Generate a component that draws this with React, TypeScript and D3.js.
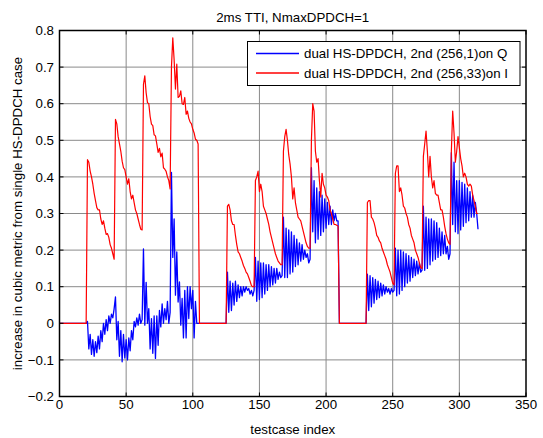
import React from "react";
import * as d3 from "d3";

// ---- data (testcase index 0..314, blocks of 21 testcases) ----
const xTicks = [0, 50, 100, 150, 200, 250, 300, 350];
const yTicks = [-0.2, -0.1, 0, 0.1, 0.2, 0.3, 0.4, 0.5, 0.6, 0.7, 0.8];

const zeroBlock = [0, 0, 0, 0, 0, 0, 0, 0, 0, 0, 0, 0, 0, 0, 0, 0, 0, 0, 0, 0, 0];

// red: dual HS-DPDCH, 2nd (256,33) on I
const red1 = [0.447, 0.44, 0.416, 0.4, 0.38, 0.355, 0.335, 0.316, 0.31, 0.31, 0.285, 0.27, 0.28, 0.26, 0.243, 0.245, 0.235, 0.215, 0.205, 0.19, 0.175];
const red2 = [0.557, 0.545, 0.51, 0.49, 0.47, 0.443, 0.425, 0.42, 0.4, 0.38, 0.395, 0.36, 0.34, 0.35, 0.33, 0.31, 0.3, 0.285, 0.27, 0.257, 0.255];
const red3 = [0.653, 0.676, 0.63, 0.603, 0.6, 0.565, 0.544, 0.54, 0.515, 0.512, 0.49, 0.467, 0.478, 0.455, 0.465, 0.425, 0.421, 0.415, 0.4, 0.39, 0.367];
const red4 = [0.7, 0.78, 0.72, 0.64, 0.708, 0.617, 0.62, 0.635, 0.6, 0.598, 0.617, 0.571, 0.58, 0.56, 0.55, 0.545, 0.53, 0.52, 0.503, 0.5, 0.49];
const red6 = [0.32, 0.325, 0.31, 0.28, 0.27, 0.27, 0.24, 0.215, 0.195, 0.19, 0.18, 0.17, 0.158, 0.15, 0.14, 0.135, 0.125, 0.115, 0.103, 0.1, 0.1];
const red7 = [0.39, 0.4, 0.416, 0.36, 0.38, 0.36, 0.32, 0.31, 0.3, 0.285, 0.27, 0.25, 0.235, 0.22, 0.205, 0.19, 0.18, 0.17, 0.165, 0.16, 0.16];
const red8 = [0.47, 0.51, 0.53, 0.5, 0.46, 0.435, 0.4, 0.34, 0.37, 0.33, 0.31, 0.29, 0.285, 0.28, 0.265, 0.25, 0.235, 0.22, 0.21, 0.205, 0.205];
const red9 = [0.5, 0.6, 0.58, 0.47, 0.44, 0.45, 0.39, 0.345, 0.41, 0.38, 0.37, 0.35, 0.345, 0.335, 0.31, 0.3, 0.285, 0.27, 0.27, 0.268, 0.266];
const red11 = [0.33, 0.335, 0.335, 0.29, 0.285, 0.275, 0.26, 0.24, 0.235, 0.225, 0.22, 0.205, 0.195, 0.185, 0.175, 0.16, 0.15, 0.14, 0.125, 0.11, 0.105];
const red12 = [0.41, 0.43, 0.43, 0.36, 0.37, 0.35, 0.32, 0.315, 0.3, 0.29, 0.27, 0.26, 0.24, 0.23, 0.22, 0.2, 0.19, 0.18, 0.165, 0.152, 0.15];
const red13 = [0.456, 0.49, 0.525, 0.47, 0.4, 0.456, 0.4, 0.37, 0.39, 0.355, 0.35, 0.35, 0.33, 0.31, 0.31, 0.29, 0.265, 0.245, 0.23, 0.22, 0.216];
const red14 = [0.47, 0.58, 0.52, 0.44, 0.47, 0.51, 0.48, 0.45, 0.43, 0.4, 0.41, 0.4, 0.38, 0.375, 0.38, 0.375, 0.35, 0.335, 0.32, 0.3, 0.3];

// blue: dual HS-DPDCH, 2nd (256,1) on Q
const blue1 = [0.005, -0.07, -0.03, -0.085, -0.045, -0.09, -0.05, -0.08, -0.035, -0.07, -0.02, -0.05, 0.0, -0.03, 0.01, -0.02, 0.02, 0.0, 0.025, 0.015, 0.04];
const blue2 = [0.072, -0.045, 0.005, -0.09, -0.02, -0.105, -0.03, -0.095, -0.045, -0.1, -0.04, -0.075, -0.02, -0.045, 0.005, -0.01, 0.015, -0.005, 0.025, 0.0, 0.01];
const blue3 = [0.203, -0.005, 0.112, 0.0, 0.04, -0.07, 0.013, -0.082, 0.02, -0.096, 0.02, -0.06, 0.035, -0.01, 0.053, 0.0, 0.04, 0.01, 0.06, 0.0, 0.03];
const blue4 = [0.412, 0.18, 0.285, 0.077, 0.195, 0.058, 0.113, -0.005, 0.068, -0.04, 0.09, -0.04, 0.1, 0.013, 0.1, 0.04, 0.09, -0.04, 0.06, 0.0, 0.0];
const blue6 = [0.14, 0.03, 0.115, 0.035, 0.11, 0.05, 0.115, 0.06, 0.105, 0.07, 0.1, 0.075, 0.1, 0.085, 0.1, 0.09, 0.095, 0.08, 0.09, 0.075, 0.09];
const blue7 = [0.18, 0.06, 0.17, 0.065, 0.165, 0.07, 0.165, 0.08, 0.16, 0.09, 0.16, 0.1, 0.155, 0.105, 0.15, 0.11, 0.15, 0.12, 0.14, 0.125, 0.13];
const blue8 = [0.29, 0.125, 0.26, 0.125, 0.255, 0.135, 0.25, 0.14, 0.24, 0.155, 0.23, 0.16, 0.22, 0.17, 0.215, 0.175, 0.2, 0.18, 0.19, 0.165, 0.175];
const blue9 = [0.425, 0.25, 0.39, 0.22, 0.37, 0.23, 0.36, 0.24, 0.35, 0.25, 0.34, 0.26, 0.33, 0.27, 0.32, 0.27, 0.31, 0.28, 0.3, 0.28, 0.28];
const blue11 = [0.134, 0.035, 0.13, 0.045, 0.125, 0.055, 0.12, 0.065, 0.115, 0.07, 0.11, 0.075, 0.105, 0.08, 0.1, 0.085, 0.095, 0.08, 0.095, 0.085, 0.09];
const blue12 = [0.205, 0.075, 0.2, 0.08, 0.2, 0.09, 0.195, 0.1, 0.19, 0.11, 0.185, 0.115, 0.18, 0.125, 0.175, 0.13, 0.17, 0.135, 0.165, 0.14, 0.145];
const blue13 = [0.32, 0.145, 0.29, 0.15, 0.285, 0.16, 0.285, 0.17, 0.28, 0.175, 0.275, 0.18, 0.26, 0.185, 0.25, 0.19, 0.24, 0.19, 0.21, 0.175, 0.19];
const blue14 = [0.466, 0.27, 0.44, 0.25, 0.39, 0.245, 0.39, 0.255, 0.385, 0.265, 0.38, 0.275, 0.37, 0.28, 0.36, 0.29, 0.35, 0.29, 0.33, 0.3, 0.257];

const redSeries = [
  ...zeroBlock, ...red1, ...red2, ...red3, ...red4,
  ...zeroBlock, ...red6, ...red7, ...red8, ...red9,
  ...zeroBlock, ...red11, ...red12, ...red13, ...red14,
];
const blueSeries = [
  ...zeroBlock, ...blue1, ...blue2, ...blue3, ...blue4,
  ...zeroBlock, ...blue6, ...blue7, ...blue8, ...blue9,
  ...zeroBlock, ...blue11, ...blue12, ...blue13, ...blue14,
];

const title = "2ms TTI, NmaxDPDCH=1";
const xLabel = "testcase index";
const yLabel = "increase in cubic metric from single HS-DPDCH case";
const legendLabels = ["dual HS-DPDCH, 2nd (256,1)on Q", "dual HS-DPDCH, 2nd (256,33)on I"];
const seriesColors = ["#0000ff", "#ff0000"];

const W = 543;
const H = 438;
const M = { left: 59.5, right: 526, top: 30.5, bottom: 396.5 };
const FONT = "'Liberation Sans', Arial, Helvetica, sans-serif";
const FS = 13.3;

export default function App() {
  const x = d3.scaleLinear().domain([0, 350]).range([M.left, M.right]);
  const y = d3.scaleLinear().domain([-0.2, 0.8]).range([M.bottom, M.top]);
  const line = d3
    .line<number>()
    .x((_, i) => x(i))
    .y((d) => y(d));
  const tl = 4;
  const fmtY = (v: number) => (Math.abs(v) < 1e-9 ? "0" : d3.format(".1f")(v));

  return (
    <svg
      width={W}
      height={H}
      style={{ position: "absolute", left: 0, top: 0, background: "#fff" }}
      fontFamily={FONT}
    >
      <rect x={0} y={0} width={W} height={H} fill="#fff" />
      {/* grid */}
      <g stroke="#8a8a8a" strokeWidth={1}>
        {xTicks.slice(1, -1).map((t) => (
          <line key={"gx" + t} x1={x(t)} x2={x(t)} y1={M.top} y2={M.bottom} />
        ))}
        {yTicks.slice(1, -1).map((t) => (
          <line key={"gy" + t} x1={M.left} x2={M.right} y1={y(t)} y2={y(t)} />
        ))}
      </g>
      {/* data */}
      <path d={line(blueSeries) || ""} fill="none" stroke={seriesColors[0]} strokeWidth={1.3} strokeLinejoin="round" />
      <path d={line(redSeries) || ""} fill="none" stroke={seriesColors[1]} strokeWidth={1.2} strokeLinejoin="round" />
      {/* axes box and ticks */}
      <rect
        x={M.left}
        y={M.top}
        width={M.right - M.left}
        height={M.bottom - M.top}
        fill="none"
        stroke="#000"
        strokeWidth={1.5}
      />
      <g stroke="#000" strokeWidth={1}>
        {xTicks.map((t) => (
          <g key={"tx" + t}>
            <line x1={x(t)} x2={x(t)} y1={M.bottom} y2={M.bottom - tl} />
            <line x1={x(t)} x2={x(t)} y1={M.top} y2={M.top + tl} />
          </g>
        ))}
        {yTicks.map((t) => (
          <g key={"ty" + t}>
            <line x1={M.left} x2={M.left + tl} y1={y(t)} y2={y(t)} />
            <line x1={M.right} x2={M.right - tl} y1={y(t)} y2={y(t)} />
          </g>
        ))}
      </g>
      {/* tick labels */}
      <g fontSize={FS} fill="#000">
        {xTicks.map((t) => (
          <text key={"lx" + t} x={x(t)} y={409} textAnchor="middle">
            {t}
          </text>
        ))}
        {yTicks.map((t) => (
          <text key={"ly" + t} x={54} y={y(t) + 4.7} textAnchor="end">
            {fmtY(t)}
          </text>
        ))}
      </g>
      {/* title and labels */}
      <text x={(M.left + M.right) / 2} y={21.5} textAnchor="middle" fontSize={FS}>
        {title}
      </text>
      <text x={(M.left + M.right) / 2} y={434} textAnchor="middle" fontSize={FS}>
        {xLabel}
      </text>
      <text
        transform={`translate(21.5, ${(M.top + M.bottom) / 2}) rotate(-90)`}
        textAnchor="middle"
        fontSize={FS}
      >
        {yLabel}
      </text>
      {/* legend */}
      <g>
        <rect x={247.5} y={41.5} width={272.5} height={44} fill="#fff" stroke="#000" strokeWidth={1} />
        {legendLabels.map((lab, i) => (
          <g key={lab}>
            <line
              x1={256}
              x2={299}
              y1={53.5 + i * 19.5}
              y2={53.5 + i * 19.5}
              stroke={seriesColors[i]}
              strokeWidth={1.3}
            />
            <text x={304} y={58.3 + i * 19.5} fontSize={FS}>
              {lab}
            </text>
          </g>
        ))}
      </g>
    </svg>
  );
}
